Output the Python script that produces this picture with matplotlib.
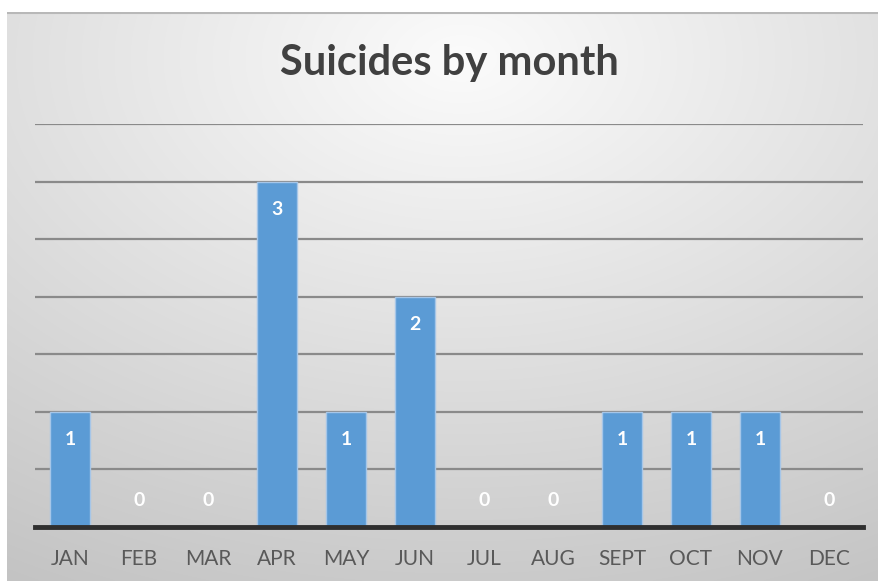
import numpy as np
import matplotlib
matplotlib.use("Agg")
import matplotlib.pyplot as plt

# data
months = ["JAN", "FEB", "MAR", "APR", "MAY", "JUN", "JUL", "AUG", "SEPT", "OCT", "NOV", "DEC"]
suicides = [1, 0, 0, 3, 1, 2, 0, 0, 1, 1, 1, 0]
title = "Suicides by month"

plt.rcParams['font.family'] = ['Lato', 'DejaVu Sans']

fig = plt.figure(figsize=(8.79, 5.81), dpi=100)
fig.patch.set_facecolor("white")

# background panel with radial gradient (like office chart style)
bg = fig.add_axes([7 / 879, 0, 872 / 879, 569 / 581], zorder=0)
h, w = 300, 460
yy, xx = np.mgrid[0:h, 0:w]
cx, cy = w * 0.52, h * 0.08
d = np.sqrt(((xx - cx) / w) ** 2 + ((yy - cy) / h) ** 2)
d = d / d.max()
shade = 0.985 - 0.22 * d ** 1.0
bg.imshow(np.dstack([shade, shade, shade]), aspect="auto", extent=[0, 1, 0, 1], interpolation="bilinear")
bg.plot([0, 1], [0.999, 0.999], color="#b8b8b8", lw=1.5, transform=bg.transAxes)
bg.set_xlim(0, 1)
bg.set_ylim(0, 1)
bg.axis("off")

ax = fig.add_axes([35.5 / 879, (581 - 527) / 581, 828 / 879, (527 - 124) / 581], zorder=1)
ax.patch.set_alpha(0)
x = np.arange(len(months))
bars = ax.bar(x, suicides, width=0.58, color="#5b9bd5", edgecolor="#a6c6e8", linewidth=1, zorder=3)
ax.set_xlim(-0.5, len(months) - 0.5)
ax.set_ylim(0, 3.5)
ax.set_yticks(np.arange(0.5, 3.51, 0.5))
ax.yaxis.grid(True, color="#8a8a8a", linewidth=1.6, zorder=1)
ax.tick_params(axis="y", left=False, labelleft=False)
ax.set_xticks(x)
ax.set_xticklabels(months, fontsize=15, color="#595959")
ax.tick_params(axis="x", length=0, pad=16)
for s in ["top", "right", "left"]:
    ax.spines[s].set_visible(False)
ax.spines["bottom"].set_color("#2f2f2f")
ax.spines["bottom"].set_linewidth(3.5)
ax.spines["bottom"].set_zorder(4)

for xi, v in zip(x, suicides):
    off = -28 if v > 0 else 27
    ax.annotate(str(v), (xi, v), xytext=(0, off), textcoords="offset pixels",
                ha="center", va="center", color="white", fontsize=14, fontweight="bold", zorder=5)

fig.text(449 / 879, 1 - 63 / 581, title, ha="center", va="center", fontsize=30,
         fontweight="bold", color="#404040")

fig.savefig("out.png", dpi=100)
